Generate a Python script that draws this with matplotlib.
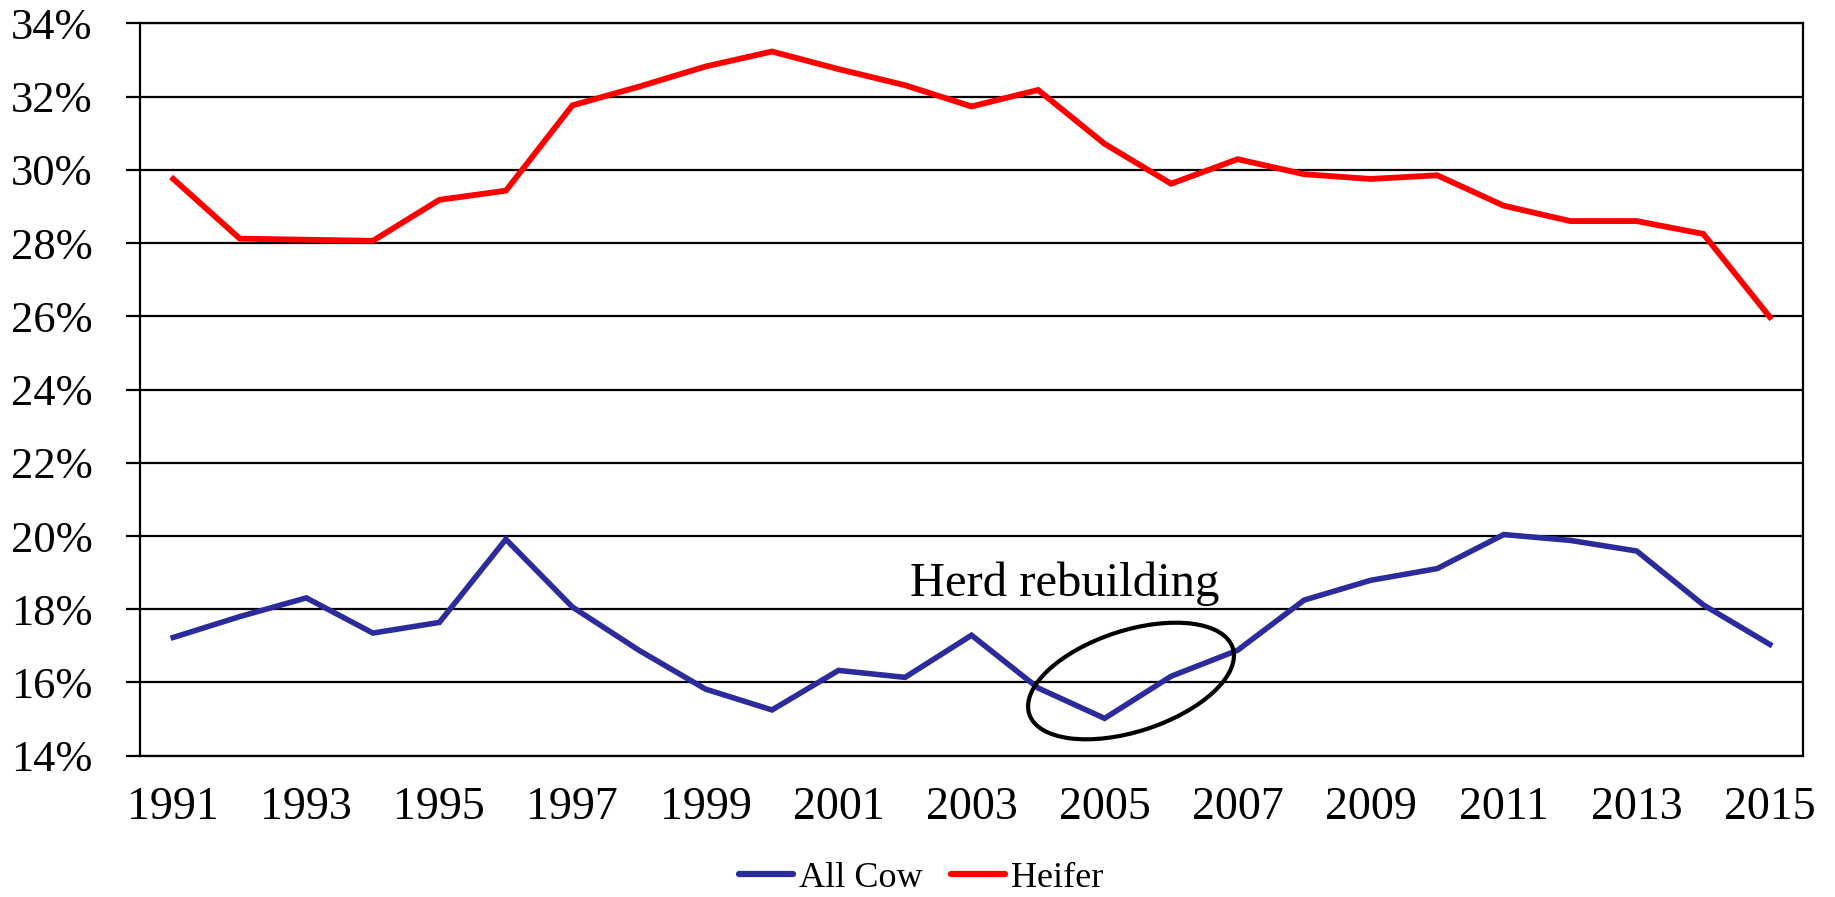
import matplotlib
matplotlib.use("Agg")
import matplotlib.pyplot as plt
from matplotlib.patches import Ellipse
from matplotlib.ticker import FuncFormatter

years = list(range(1991, 2016))
all_cow = [17.23, 17.80, 18.31, 17.35, 17.64, 19.91, 18.06, 16.88, 15.82, 15.25,
           16.33, 16.14, 17.29, 15.85, 15.02, 16.17, 16.88, 18.25, 18.79, 19.11,
           20.04, 19.88, 19.59, 18.12, 17.04]
heifer = [29.75, 28.12, 28.09, 28.06, 29.18, 29.43, 31.76, 32.27, 32.82, 33.23,
          32.75, 32.31, 31.73, 32.18, 30.71, 29.62, 30.29, 29.88, 29.75, 29.85,
          29.02, 28.60, 28.60, 28.25, 25.98]
xtick_years = list(range(1991, 2016, 2))
yticks = list(range(14, 35, 2))
annotation = "Herd rebuilding"

plt.rcParams['font.family'] = ['Liberation Serif', 'DejaVu Serif']

fig = plt.figure(figsize=(18.35, 8.97), dpi=100)
ax = fig.add_axes([0.0763, 0.1575, 0.9826 - 0.0763, 0.974 - 0.1575])

ax.plot(years, all_cow, color='#2B2B9B', lw=4.0, label='All Cow', solid_joinstyle='miter')
ax.plot(years, heifer, color='#FF0000', lw=4.2, label='Heifer', solid_joinstyle='miter')

ax.set_xlim(1990.5, 2015.5)
ax.set_ylim(14, 34)
ax.set_yticks(yticks)
ax.yaxis.set_major_formatter(FuncFormatter(lambda v, p: f"{v:.0f}%"))
ax.set_xticks(xtick_years)
ax.grid(axis='y', color='black', lw=1.6)
ax.set_axisbelow(True)
for s in ax.spines.values():
    s.set_color('black')
    s.set_linewidth(1.6)
ax.tick_params(axis='y', length=10, width=1.6, pad=24, labelsize=32)
ax.tick_params(axis='x', length=0, pad=22, labelsize=33)

ax.text(2004.4, 18.1, annotation, fontsize=35, ha='center', va='bottom')

ell = Ellipse((11.31, 2.16), width=2.14, height=1.01, angle=18,
              transform=fig.dpi_scale_trans, fill=False, edgecolor='black', lw=3.0)
fig.add_artist(ell)

leg = fig.legend(loc='center', bbox_to_anchor=(0.502, 0.021), ncol=2, frameon=False,
                 fontsize=26, handlelength=1.5, handletextpad=0.15, columnspacing=0.8)
for l in leg.get_lines():
    l.set_linewidth(4.5)
    l.set_solid_capstyle('round')

fig.savefig("out.png", dpi=100)
